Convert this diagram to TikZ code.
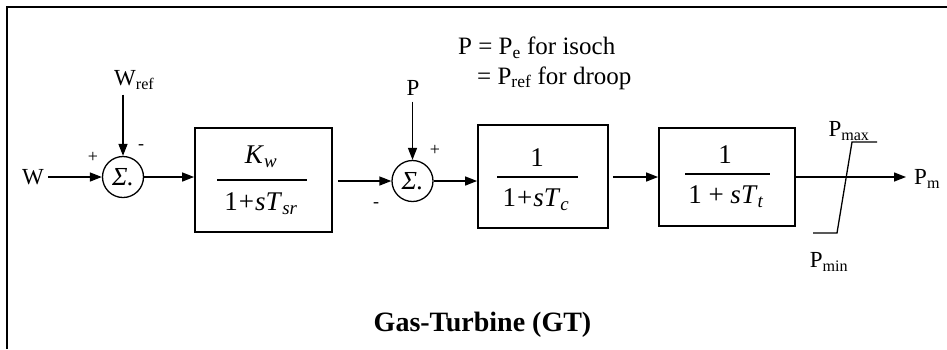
\documentclass[tikz,border=0pt]{standalone}
\usepackage{fontspec}
\setmainfont{Liberation Serif}
\usetikzlibrary{arrows.meta,calc}
\newcommand{\GTlbl}{\fontsize{23}{27}\selectfont}
\newcommand{\GTnote}{\fontsize{25}{29}\selectfont}
\newcommand{\GTfrc}{\fontsize{27}{31}\selectfont}
\newcommand{\GTsgn}{\fontsize{18}{20}\selectfont}
\newcommand{\GTsig}{\fontsize{26}{30}\selectfont\itshape}
\newcommand{\GTttl}{\fontsize{28}{32}\selectfont\bfseries}
\begin{document}
\begin{tikzpicture}[x=1pt,y=-1pt,
  arr/.style={-{Triangle[length=12pt,width=9pt]}, line width=1.4pt},
  blk/.style={draw, line width=1.8pt, rectangle, inner sep=0pt},
  sumnode/.style={draw, circle, line width=1.3pt, minimum size=41pt, inner sep=0pt, font=\GTsig},
  lab/.style={inner sep=0pt, font=\GTlbl},
  note/.style={inner sep=0pt, font=\GTnote},
  frc/.style={inner sep=0pt, font=\GTfrc},
  sgn/.style={inner sep=0pt, font=\GTsgn},
  bar/.style={line width=1.4pt}]
\useasboundingbox (0,0) rectangle (947,349);
\draw[line width=2.4pt] (7,349) -- (7,7) -- (947,7);

% left part
\node[lab] (W) at (33,177) {W};
\node[sumnode] (s1) at (123,177) {Σ.};
\node[lab, anchor=west] (Wref) at (114,80) {W\textsubscript{ref}};
\node[sgn] (p1) at (93,157) {+};
\node[sgn] (m1) at (141,147) {-};

% block 1
\node[blk, minimum width=137pt, minimum height=104pt] (b1) at (263.5,180) {};
\node[frc] (b1n) at (261,157) {\textit{K}\textsubscript{\textit{w}}};
\draw[bar] (217,180) -- (307,180);
\node[frc] (b1d) at (261,204) {1\kern1pt+\kern1pt\textit{sT}\textsubscript{\textit{sr}}};

% second summing junction
\node[sumnode] (s2) at (412.5,181) {Σ.};
\node[lab] (P) at (413,88) {P};
\node[sgn] (p2) at (435,150) {+};
\node[sgn] (m2) at (376,205) {-};

% block 2
\node[blk, minimum width=130pt, minimum height=103pt] (b2) at (543,176.5) {};
\node[frc] (b2n) at (537,158) {1};
\draw[bar] (497,177) -- (578,177);
\node[frc] (b2d) at (536,200) {1\kern1pt+\kern1pt\textit{sT}\textsubscript{\textit{c}}};

% block 3
\node[blk, minimum width=136pt, minimum height=98pt] (b3) at (727,177) {};
\node[frc] (b3n) at (725,155) {1};
\draw[bar] (685,174) -- (770,174);
\node[frc] (b3d) at (726,197) {1 + \textit{sT}\textsubscript{\textit{t}}};

% limiter and output
\draw[line width=1.3pt] (813,233) -- (837,233) -- (852,142) -- (877,142);
\node[lab] (Pmax) at (849,131) {P\textsubscript{max}};
\node[lab] (Pmin) at (829,262) {P\textsubscript{min}};
\node[lab, anchor=west] (Pm) at (914,179) {P\textsubscript{m}};

% notes and title
\node[note, anchor=west] (n1) at (458,48) {P = P\textsubscript{e} for isoch};
\node[note, anchor=west] (n2) at (477,78) {= P\textsubscript{ref} for droop};
\node[font=\GTttl, inner sep=0pt] (ttl) at (482.5,325) {Gas-Turbine (GT)};

% connectors
\draw[arr, shorten <=4pt] (W.east) -- (s1.west);
\draw[arr, shorten <=5pt] (Wref.south -| s1.north) -- (s1.north);
\draw[arr] (s1.east) -- (s1.east -| b1.west);
\draw[arr, shorten <=5pt] (s2.west -| b1.east) -- (s2.west);
\draw[arr, shorten <=6pt] (P.south -| s2.north) -- (s2.north);
\draw[arr] (s2.east) -- (s2.east -| b2.west);
\draw[arr, shorten <=4pt] (b3.west -| b2.east) -- (b3.west);
\draw[arr, shorten >=8pt] (b3.east) -- (b3.east -| Pm.west);
\end{tikzpicture}
\end{document}
